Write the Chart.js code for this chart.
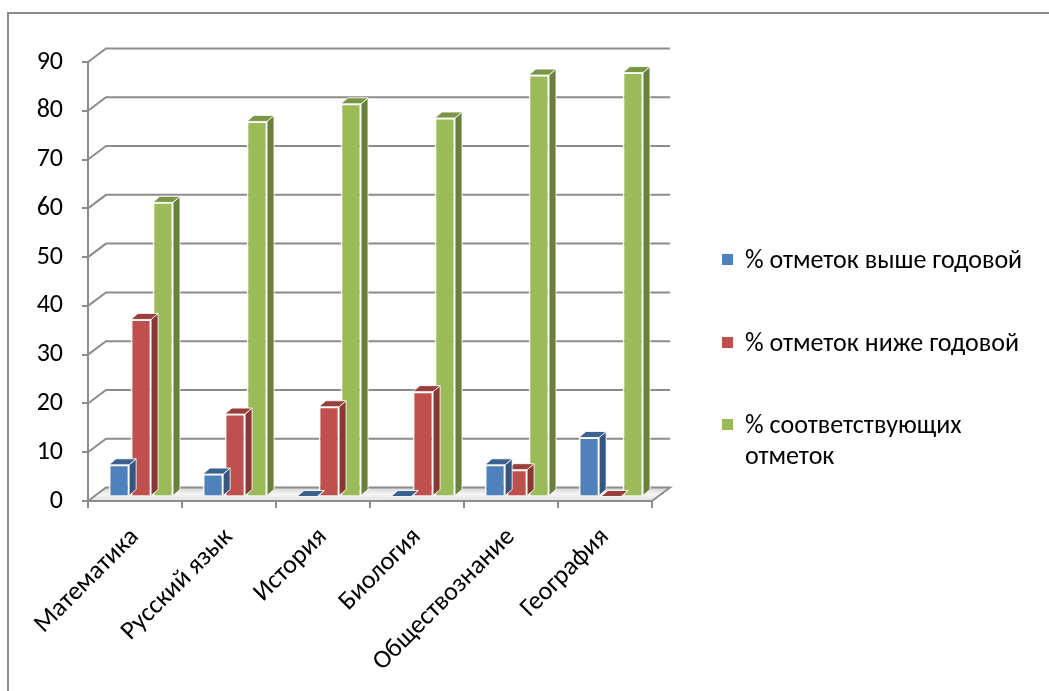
<!DOCTYPE html>
<html>
<head>
<meta charset="utf-8">
<script src="https://cdn.jsdelivr.net/npm/chart.js@4.4.1/dist/chart.umd.min.js"></script>
<style>
    html, body { margin: 0; padding: 0; width: 1049px; height: 691px; overflow: hidden; background: #fff; }
    #frame { position: absolute; left: 7px; top: 12px; width: 1100px; height: 720px; border: 2px solid #8c8c8c; box-sizing: border-box; }
    #wrap { position: absolute; left: 0; top: 0; width: 1049px; height: 691px; }
    #legend { position: absolute; left: 722px; top: 0; font-family: Calibri, Carlito, Roboto, sans-serif; font-size: 26px; color: #000; }
    .lg-item { position: absolute; left: 0; width: 327px; line-height: 31px; }
    .lg-box { position: absolute; left: 0; top: 10px; width: 11px; height: 11px; }
    .lg-text { margin-left: 23px; width: 300px; }
</style>
</head>
<body>
<div id="frame"></div>
<div id="wrap"><canvas id="chart" width="1049" height="691"></canvas></div>
<div id="legend"></div>
<script>
// ---- data ----
const subjects = ['Математика', 'Русский язык', 'История', 'Биология', 'Обществознание', 'География'];
const seriesNames = ['% отметок выше годовой', '% отметок ниже годовой', '% соответствующих отметок'];
const aboveYear = [6.5, 4.6, 0, 0, 6.5, 12.1];
const belowYear = [36.3, 16.9, 18.4, 21.5, 5.5, 0];
const matchYear = [60.3, 76.9, 80.5, 77.6, 86.4, 86.9];
const yTicks = [0, 10, 20, 30, 40, 50, 60, 70, 80, 90];

const FONT = 'Calibri, Carlito, Roboto, sans-serif';

// front / side / top colours per series
const faces = [
    { front: '#4F81BD', side: '#35577F', top: '#3B6191' },
    { front: '#C0504D', side: '#8A3835', top: '#993E3B' },
    { front: '#9BBB59', side: '#6A813B', top: '#7A9546' }
];

// 3D offsets
const DX = 18, DY = -13.5;  // back wall
const BX = 6, BY = -4.5;    // row of bars
const SX = 7, SY = -6;      // bar depth

function poly(ctx, pts, fill) {
    ctx.beginPath();
    ctx.moveTo(pts[0][0], pts[0][1]);
    for (let i = 1; i < pts.length; i++) ctx.lineTo(pts[i][0], pts[i][1]);
    ctx.closePath();
    ctx.fillStyle = fill;
    ctx.fill();
    ctx.strokeStyle = 'rgba(255,255,255,0.85)';
    ctx.lineWidth = 1;
    ctx.stroke();
}

const wall3d = {
    id: 'wall3d',
    beforeDatasetsDraw(chart) {
        const { ctx, chartArea: a, scales: { y } } = chart;
        ctx.save();
        // floor
        ctx.beginPath();
        ctx.moveTo(a.left, a.bottom);
        ctx.lineTo(a.right, a.bottom);
        ctx.lineTo(a.right + DX, a.bottom + DY);
        ctx.lineTo(a.left + DX, a.bottom + DY);
        ctx.closePath();
        const g = ctx.createLinearGradient(0, a.bottom + DY, 0, a.bottom);
        g.addColorStop(0, '#d4d4d4');
        g.addColorStop(0.5, '#f6f6f6');
        g.addColorStop(1, '#e0e0e0');
        ctx.fillStyle = g;
        ctx.fill();

        // back wall grid lines + diagonals from the front axis
        ctx.strokeStyle = '#8c8c8c';
        ctx.lineWidth = 2;
        y.ticks.forEach(t => {
            const py = y.getPixelForValue(t.value);
            ctx.beginPath();
            ctx.moveTo(a.left, py);
            ctx.lineTo(a.left + DX, py + DY);
            ctx.lineTo(a.right + DX, py + DY);
            if (t.value === 0) ctx.lineTo(a.right, py);
            ctx.stroke();
        });
        // front edge of the floor
        ctx.beginPath();
        ctx.moveTo(a.left, a.bottom);
        ctx.lineTo(a.right, a.bottom);
        ctx.stroke();
        ctx.restore();

        // bars sit a bit deeper than the front axis
        ctx.save();
        ctx.translate(BX, BY);
    },
    afterDatasetDraw(chart, args) {
        const ctx = chart.ctx;
        const c = faces[args.index];
        args.meta.data.forEach(bar => {
            const { x, y, base, width } = bar.getProps(['x', 'y', 'base', 'width'], true);
            const l = x - width / 2, r = x + width / 2;
            poly(ctx, [[r, y], [r + SX, y + SY], [r + SX, base + SY], [r, base]], c.side);
            poly(ctx, [[l, y], [r, y], [r + SX, y + SY], [l + SX, y + SY]], c.top);
        });
    },
    afterDatasetsDraw(chart) {
        chart.ctx.restore();
    }
};

const datasets = [aboveYear, belowYear, matchYear].map((vals, i) => ({
    label: seriesNames[i],
    data: vals,
    backgroundColor: faces[i].front,
    borderColor: '#ffffff',
    borderWidth: 1.5,
    categoryPercentage: 0.7,
    barPercentage: 0.92,
    clip: false
}));

const ctx = document.getElementById('chart').getContext('2d');
new Chart(ctx, {
    type: 'bar',
    data: { labels: subjects, datasets: datasets },
    options: {
        responsive: false,
        animation: false,
        devicePixelRatio: 1,
        layout: { padding: { top: 62, right: 397, left: 0, bottom: 0 } },
        plugins: { legend: { display: false }, tooltip: { enabled: false } },
        scales: {
            x: {
                afterFit: s => { s.height = 190; },
                border: { display: false },
                grid: { drawOnChartArea: false, color: '#8c8c8c', lineWidth: 2, tickLength: 7 },
                ticks: { color: '#000', font: { family: FONT, size: 26 }, minRotation: 45, maxRotation: 45, padding: 14, autoSkip: false }
            },
            y: {
                min: 0, max: 90,
                afterFit: s => { s.width = 88; },
                afterBuildTicks: s => { s.ticks = yTicks.map(v => ({ value: v })); },
                border: { display: true, color: '#8c8c8c', width: 2 },
                grid: { drawOnChartArea: false, color: '#8c8c8c', lineWidth: 2, tickLength: 6 },
                ticks: { color: '#000', font: { family: FONT, size: 26 }, padding: 19 }
            }
        }
    },
    plugins: [wall3d]
});

// legend built from the same series
const legendCenters = [259, 342, 424];
const legend = document.getElementById('legend');
seriesNames.forEach((name, i) => {
    const item = document.createElement('div');
    item.className = 'lg-item';
    item.style.top = (legendCenters[i] - 15.5) + 'px';
    item.innerHTML = '<div class="lg-box" style="background:' + faces[i].front + '"></div><div class="lg-text">' + name + '</div>';
    legend.appendChild(item);
});
</script>
</body>
</html>
